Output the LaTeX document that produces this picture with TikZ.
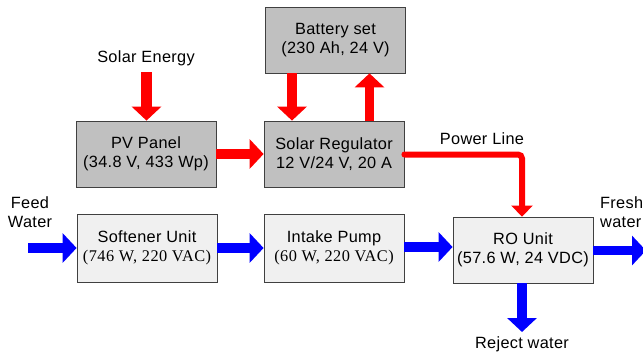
\documentclass[tikz,border=0pt]{standalone}
\usepackage{fontspec}
\setmainfont{Liberation Sans}[LetterSpace=2]
\newfontfamily\serifx{Liberation Serif}[LetterSpace=3]
\usetikzlibrary{arrows.meta}
\definecolor{boxgray}{HTML}{C0C0C0}
\definecolor{boxlight}{HTML}{F0F0F0}
\definecolor{arrred}{HTML}{FF0000}
\definecolor{arrblue}{HTML}{0000FF}
\begin{document}
\begin{tikzpicture}[x=1pt,y=-1pt,
  box/.style={draw=black!75, line width=0.8pt, minimum width=140pt, minimum height=66pt,
    align=center, inner sep=0pt, font=\fontsize{16.3}{19.5}\selectfont},
  darkbox/.style={box, fill=boxgray},
  lightbox/.style={box, fill=boxlight, minimum height=68pt},
  redarr/.style={draw=arrred, line width=10pt, -{Triangle[length=14pt,width=29pt]}},
  bluearr/.style={draw=arrblue, line width=10pt, -{Triangle[length=14pt,width=29pt]}},
  lbl/.style={font=\fontsize{16.3}{19.5}\selectfont, inner sep=0pt}]
\fill[white] (0,0) rectangle (643,356);
\useasboundingbox (0,0) rectangle (643,356);

% boxes
\node[darkbox] (bat) at (335.5,40) {Battery set\\(230 Ah, 24 V)};
\node[darkbox] (pv) at (146,154) {PV Panel\\(34.8 V, 433 Wp)};
\node[darkbox] (reg) at (334,154) {Solar Regulator\\12 V/24 V, 20 A};
\node[lightbox] (soft) at (147,248) {Softener Unit\\{\serifx (746 W, 220 VAC)}};
\node[lightbox] (pump) at (334,248) {Intake Pump\\{\serifx (60 W, 220 VAC)}};
\node[box, fill=boxlight] (ro) at (523,250) {RO Unit\\(57.6 W, 24 VDC)};

% labels
\node[lbl] (se) at (146,58) {Solar Energy};
\node[lbl] (pl) at (482,139) {Power Line};
\node[lbl, align=center] (feed) at (30,212) {Feed\\Water};
\node[lbl, align=left, anchor=west] (fresh) at (600,212) {Fresh\\water};
\node[lbl] (rej) at (522,344) {Reject water};

% free ends
\coordinate (setop) at (146.5,72);
\coordinate (feedstart) at (28,248);
\coordinate (freshend) at (646,249.5);
\coordinate (rejend) at (522,332);

% red arrows
\draw[redarr, line width=11pt] (setop) -- (setop |- pv.north);
\draw[redarr] ([xshift=-43.5pt]bat.south) -- ([xshift=-43.5pt]bat.south |- reg.north);
\draw[redarr, line width=9pt] ([xshift=35.5pt]reg.north) -- ([xshift=35.5pt]reg.north |- bat.south);
\draw[redarr, line width=9.5pt] (pv.east) -- (reg.west);
\draw[draw=arrred, line width=6pt, rounded corners=4pt, line cap=round,
  -{Triangle[length=11pt,width=21pt]}] ([yshift=-0.5pt]reg.east) -| ([xshift=-1pt]ro.north);

% blue arrows
\draw[bluearr] (feedstart) -- (feedstart -| soft.west);
\draw[bluearr] (soft.east) -- (pump.west);
\draw[bluearr] ([yshift=1pt]pump.east) -- ([yshift=1pt]pump.east -| ro.west);
\draw[bluearr, line width=9pt] ([yshift=-0.5pt]ro.east) -- ([yshift=-0.5pt]ro.east -| freshend);
\draw[bluearr] ([xshift=-1pt]ro.south) -- ([xshift=-1pt]ro.south |- rejend);
\end{tikzpicture}
\end{document}
